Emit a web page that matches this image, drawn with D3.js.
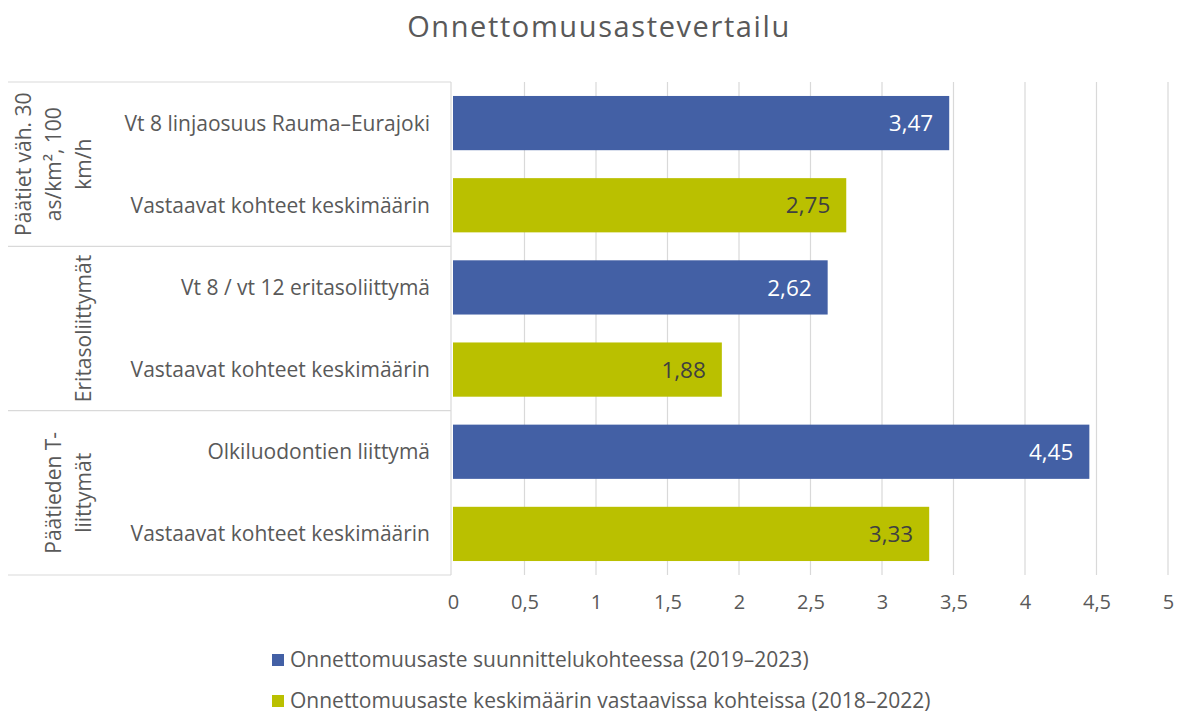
<!DOCTYPE html>
<html>
<head>
<meta charset="utf-8">
<script src="https://cdn.jsdelivr.net/npm/d3@7"></script>
<style>
  body { margin: 0; background: #fff; }
  text { font-family: "Open Sans", Lato, sans-serif; }
</style>
</head>
<body>
<script>
var categories = [
  "Vt 8 linjaosuus Rauma–Eurajoki",
  "Vastaavat kohteet keskimäärin",
  "Vt 8 / vt 12 eritasoliittymä",
  "Vastaavat kohteet keskimäärin",
  "Olkiluodontien liittymä",
  "Vastaavat kohteet keskimäärin"
];
var values = [3.47, 2.75, 2.62, 1.88, 4.45, 3.33];
var seriesIndex = [0, 1, 0, 1, 0, 1];
var groups = [
  {lines: ["Päätiet väh. 30", "as/km², 100", "km/h"], start: 0, end: 2},
  {lines: ["Eritasoliittymät"], start: 2, end: 4},
  {lines: ["Päätieden T-", "liittymät"], start: 4, end: 6}
];
var seriesNames = [
  "Onnettomuusaste suunnittelukohteessa (2019–2023)",
  "Onnettomuusaste keskimäärin vastaavissa kohteissa (2018–2022)"
];
var colors = ["#4360a5", "#bac000"];
var labelColors = ["#ffffff", "#404040"];
var xTicks = [0, 0.5, 1, 1.5, 2, 2.5, 3, 3.5, 4, 4.5, 5];

var svg = d3.select("body")
    .append("svg")
    .attr("width", 1180)
    .attr("height", 715);

var plotLeft = 453, plotRight = 1168, plotTop = 82, plotBottom = 575;
var boxLeft = 8;

var x = d3.scaleLinear().domain([0, 5]).range([plotLeft, plotRight]);
var y = d3.scaleBand()
    .domain(d3.range(categories.length))
    .range([plotTop, plotBottom])
    .paddingInner(0.34)
    .paddingOuter(0.17);
var fmt = function (v) { return d3.format(".2f")(v).replace(".", ","); };

svg.append("text")
    .attr("x", 599)
    .attr("y", 37)
    .attr("text-anchor", "middle")
    .attr("fill", "#595959")
    .style("font-size", "29px")
    .style("letter-spacing", "1.6px")
    .text("Onnettomuusastevertailu");

// gridlines
svg.append("g")
    .selectAll("line")
    .data(xTicks.slice(1))
    .enter()
    .append("line")
    .attr("x1", function (d) { return x(d); })
    .attr("x2", function (d) { return x(d); })
    .attr("y1", plotTop)
    .attr("y2", plotBottom)
    .attr("stroke", "#d9d9d9")
    .attr("stroke-width", 1.2);

// category box lines
var boundaries = [0, 2, 4, 6];
svg.append("g")
    .selectAll("line")
    .data(boundaries)
    .enter()
    .append("line")
    .attr("x1", boxLeft)
    .attr("x2", plotLeft - 2)
    .attr("y1", function (d) { return plotTop + d * (plotBottom - plotTop) / 6; })
    .attr("y2", function (d) { return plotTop + d * (plotBottom - plotTop) / 6; })
    .attr("stroke", "#d9d9d9")
    .attr("stroke-width", 1.2);

svg.append("line")
    .attr("x1", plotLeft - 2).attr("x2", plotLeft - 2)
    .attr("y1", plotTop).attr("y2", plotBottom)
    .attr("stroke", "#d9d9d9")
    .attr("stroke-width", 1.2);

// bars
svg.append("g")
    .selectAll("rect")
    .data(values)
    .enter()
    .append("rect")
    .attr("x", x(0))
    .attr("y", function (d, i) { return y(i); })
    .attr("width", function (d) { return x(d) - x(0); })
    .attr("height", y.bandwidth())
    .attr("fill", function (d, i) { return colors[seriesIndex[i]]; });

svg.append("g")
    .selectAll("text")
    .data(values)
    .enter()
    .append("text")
    .attr("x", function (d) { return x(d) - 16; })
    .attr("y", function (d, i) { return y(i) + y.bandwidth() / 2; })
    .attr("dy", "0.36em")
    .attr("text-anchor", "end")
    .attr("fill", function (d, i) { return labelColors[seriesIndex[i]]; })
    .style("font-size", "22.5px")
    .text(fmt);

// category labels
svg.append("g")
    .selectAll("text")
    .data(categories)
    .enter()
    .append("text")
    .attr("x", 430)
    .attr("y", function (d, i) { return y(i) + y.bandwidth() / 2; })
    .attr("dy", "0.36em")
    .attr("text-anchor", "end")
    .attr("fill", "#595959")
    .style("font-size", "21px")
    .text(function (d) { return d; });

// group labels (rotated)
groups.forEach(function (g) {
    var cy = plotTop + (g.start + g.end) / 2 * (plotBottom - plotTop) / 6;
    var n = g.lines.length;
    g.lines.forEach(function (line, j) {
        var cx = 91 - (n - 1 - j) * 30;
        svg.append("text")
            .attr("transform", "translate(" + cx + "," + cy + ") rotate(-90)")
            .attr("text-anchor", "middle")
            .attr("fill", "#595959")
            .style("font-size", "21px")
            .text(line);
    });
});

// x axis labels
var xAxis = d3.axisBottom(x)
    .tickValues(xTicks)
    .tickSize(0)
    .tickPadding(20)
    .tickFormat(function (d) { return String(d).replace(".", ","); });
svg.append("g")
    .attr("transform", "translate(0," + plotBottom + ")")
    .call(xAxis)
    .call(function (g) { g.select(".domain").remove(); })
    .selectAll("text")
    .attr("fill", "#595959")
    .style("font-size", "20px")
    .style("font-family", "'Open Sans', sans-serif");

// legend
var legend = svg.append("g")
    .selectAll("g")
    .data(seriesNames)
    .enter()
    .append("g")
    .attr("transform", function (d, i) { return "translate(272," + (660 + i * 41) + ")"; });
legend.append("rect")
    .attr("x", 0).attr("y", -6)
    .attr("width", 12).attr("height", 12)
    .attr("fill", function (d, i) { return colors[i]; });
legend.append("text")
    .attr("x", 18)
    .attr("dy", "0.33em")
    .attr("fill", "#595959")
    .style("font-size", "21px")
    .text(function (d) { return d; });
</script>
</body>
</html>
